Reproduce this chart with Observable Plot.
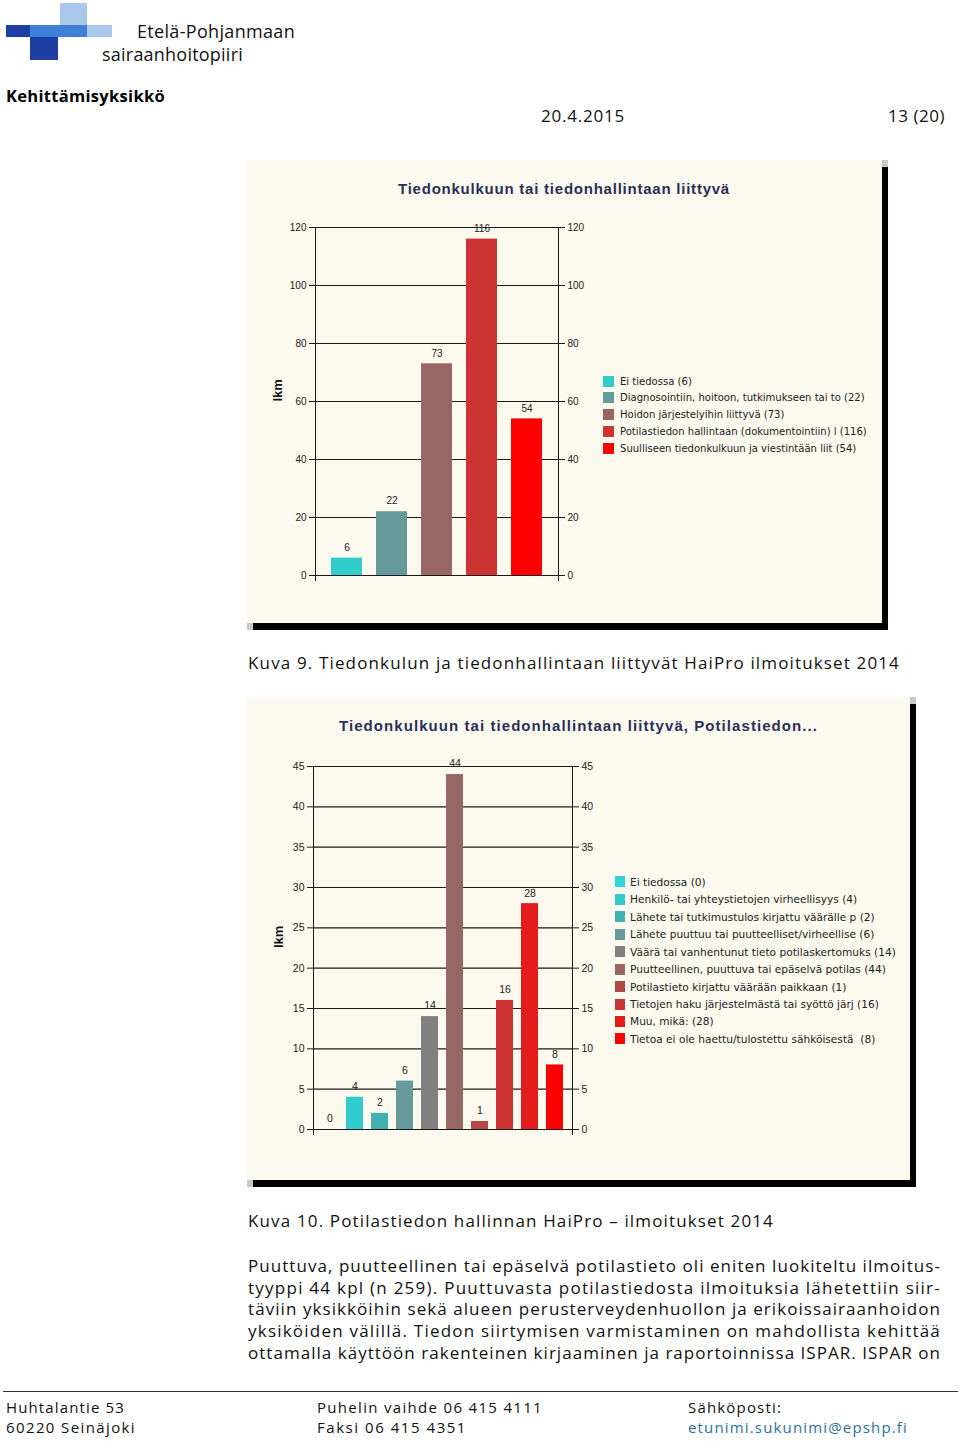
<!DOCTYPE html>
<html><head><meta charset="utf-8">
<script src="https://cdn.jsdelivr.net/npm/d3@7"></script>
<script src="https://cdn.jsdelivr.net/npm/@observablehq/plot@0.6"></script>
<style>
html,body{margin:0;padding:0;background:#fff;}
#page{position:relative;width:960px;height:1444px;overflow:hidden;font-family:"Open Sans",sans-serif;color:#111;}
.t{position:absolute;white-space:pre;line-height:1;}
.panel{position:absolute;background:#fcf9ee;box-shadow:6px 7px 0 #000,6px 0 0 #c8c8c8,0 7px 0 #c8c8c8;}
.panel svg{position:absolute;left:0;top:0;}
.ctitle{position:absolute;white-space:pre;font-family:"Liberation Sans",Arial,sans-serif;font-weight:bold;font-size:15px;color:#2b2f58;line-height:1;}
.legend{position:absolute;font-family:"DejaVu Sans",Verdana,sans-serif;color:#222;}
.legend .row{display:flex;align-items:center;white-space:pre;}
.legend .sw{flex:none;}
.logo{position:absolute;}
</style></head>
<body><div id="page"></div>
<script>
// ---------- data ----------
const chart1Title = "Tiedonkulkuun tai tiedonhallintaan liittyvä";
const chart1Categories = ["Ei tiedossa", "Diagnosointiin, hoitoon, tutkimukseen tai to", "Hoidon järjestelyihin liittyvä", "Potilastiedon hallintaan (dokumentointiin) l", "Suulliseen tiedonkulkuun ja viestintään liit"];
const chart1Values = [6, 22, 73, 116, 54];
const chart1Colors = ["#33cccc", "#669999", "#996666", "#cc3333", "#ff0000"];
const chart1Ticks = [0, 20, 40, 60, 80, 100, 120];

const chart2Title = "Tiedonkulkuun tai tiedonhallintaan liittyvä, Potilastiedon...";
const chart2Categories = ["Ei tiedossa", "Henkilö- tai yhteystietojen virheellisyys", "Lähete tai tutkimustulos kirjattu väärälle p", "Lähete puuttuu tai puutteelliset/virheellise", "Väärä tai vanhentunut tieto potilaskertomuks", "Puutteellinen, puuttuva tai epäselvä potilas", "Potilastieto kirjattu väärään paikkaan", "Tietojen haku järjestelmästä tai syöttö järj", "Muu, mikä:", "Tietoa ei ole haettu/tulostettu sähköisestä "];
const chart2Values = [0, 4, 2, 6, 14, 44, 1, 16, 28, 8];
const chart2Colors = ["#33d6d6", "#33cccc", "#40b0b0", "#669999", "#808080", "#996666", "#b04848", "#cc3333", "#e41c1c", "#ff0000"];
const chart2Ticks = [0, 5, 10, 15, 20, 25, 30, 35, 40, 45];

const caption1 = "Kuva 9. Tiedonkulun ja tiedonhallintaan liittyvät HaiPro ilmoitukset 2014";
const caption2 = "Kuva 10. Potilastiedon hallinnan HaiPro – ilmoitukset 2014";
const paragraphLines = [
  "Puuttuva, puutteellinen tai epäselvä potilastieto oli eniten luokiteltu ilmoitus-",
  "tyyppi 44 kpl (n 259). Puuttuvasta potilastiedosta ilmoituksia lähetettiin siir-",
  "täviin yksikköihin sekä alueen perusterveydenhuollon ja erikoissairaanhoidon",
  "yksiköiden välillä. Tiedon siirtymisen varmistaminen on mahdollista kehittää",
  "ottamalla käyttöön rakenteinen kirjaaminen ja raportoinnissa ISPAR. ISPAR on"
];

// ---------- helpers ----------
const page = document.getElementById("page");
function txt(parent, s, x, cy, fs, w, extra) {
  const d = document.createElement("div");
  d.className = "t";
  d.textContent = s;
  d.style.left = x + "px";
  d.style.top = (cy - 0.56 * fs) + "px";
  d.style.fontSize = fs + "px";
  if (extra) Object.assign(d.style, extra);
  parent.appendChild(d);
  if (w) fitSpacing(d, w);
  return d;
}
function fitSpacing(el, w) {
  el.style.letterSpacing = "0px";
  const cur = el.getBoundingClientRect().width;
  const n = [...el.textContent].length;
  el.style.letterSpacing = ((w - cur) / n) + "px";
}
function box(x, y, w, h, c) {
  const d = document.createElement("div");
  d.className = "logo";
  Object.assign(d.style, {left: x + "px", top: y + "px", width: w + "px", height: h + "px", background: c});
  page.appendChild(d);
}

// ---------- header ----------
box(60, 3, 27, 23, "#a9c8ec");
box(6, 25, 24, 12, "#1d3fa4");
box(30, 25, 57, 12, "#3f80d6");
box(87, 25, 25, 12, "#a9c8ec");
box(30, 37, 28, 23, "#1d3fa4");
txt(page, "Etelä-Pohjanmaan", 137, 32, 18, 158, {color: "#111"});
txt(page, "sairaanhoitopiiri", 102, 55, 18, 141, {color: "#111"});
txt(page, "Kehittämisyksikkö", 6, 97, 16.5, 159, {fontWeight: "bold", color: "#000"});
txt(page, "20.4.2015", 541, 117, 17, 84);
txt(page, "13 (20)", 888, 117, 17, 57);

// ---------- charts ----------
function chart(o) {
  const panel = document.createElement("div");
  panel.className = "panel";
  Object.assign(panel.style, {left: o.x + "px", top: o.y + "px", width: o.w + "px", height: o.h + "px"});
  page.appendChild(panel);
  const data = o.cats.map((c, i) => ({c, v: o.vals[i], color: o.colors[i]}));
  const svg = Plot.plot({
    width: o.w, height: o.h,
    marginLeft: o.ml, marginRight: o.mr, marginTop: o.mt, marginBottom: o.mb,
    style: {background: "transparent", fontFamily: "Liberation Sans, Arial, sans-serif", fontSize: o.tickFs + "px", color: "#222", overflow: "visible"},
    x: {domain: o.cats, padding: o.pad, axis: null},
    y: {domain: [0, o.ticks[o.ticks.length - 1]], axis: null},
    color: {type: "identity"},
    marks: [
      Plot.ruleY(o.ticks, {stroke: "#1a1a1a", strokeWidth: 1.1}),
      Plot.axisY(o.ticks, {anchor: "left", tickSize: 6, tickPadding: 3, label: null, fontSize: o.tickFs, stroke: "#1a1a1a"}),
      Plot.axisY(o.ticks, {anchor: "right", tickSize: 6, tickPadding: 3, label: null, fontSize: o.tickFs, stroke: "#1a1a1a"}),
      Plot.frame({anchor: "left", stroke: "#1a1a1a", insetBottom: -5}),
      Plot.frame({anchor: "right", stroke: "#1a1a1a", insetBottom: -5}),
      Plot.barY(data, {x: "c", y: "v", fill: "color"}),
      Plot.text(data, {x: "c", y: "v", text: d => String(d.v), dy: -10.5, fontSize: o.tickFs, fill: "#222"}),
      Plot.text(["lkm"], {frameAnchor: "left", dx: o.lkmDx, rotate: -90, fontWeight: "bold", fontSize: 13, fill: "#111"})
    ]
  });
  panel.appendChild(svg);
  const t = document.createElement("div");
  t.className = "ctitle";
  t.textContent = o.title;
  t.style.top = (o.titleCy - o.y - 8.5) + "px";
  panel.appendChild(t);
  fitSpacing(t, o.titleW);
  t.style.left = (o.titleX - o.x) + "px";
  const lg = document.createElement("div");
  lg.className = "legend";
  lg.style.left = (o.lgX - o.x) + "px";
  lg.style.top = (o.lgY - o.y - o.rowH / 2) + "px";
  lg.style.fontSize = "10px";
  const spans = [];
  data.forEach(d => {
    const r = document.createElement("div");
    r.className = "row";
    r.style.height = o.rowH + "px";
    const sw = document.createElement("div");
    sw.className = "sw";
    Object.assign(sw.style, {width: o.swW + "px", height: o.swH + "px", background: d.color, marginRight: o.swGap + "px"});
    const s = document.createElement("span");
    s.textContent = d.c + " (" + d.v + ")";
    r.appendChild(sw); r.appendChild(s);
    lg.appendChild(r);
    spans.push(s);
  });
  panel.appendChild(lg);
  // scale the legend font so that the reference row has its measured length
  const wNow = spans[o.lgRefRow].getBoundingClientRect().width;
  lg.style.fontSize = (10 * o.lgRefW / wNow) + "px";
}

chart({x: 247, y: 160, w: 635, h: 463, ml: 68, mr: 324, mt: 67, mb: 48, pad: 0.32,
  cats: chart1Categories, vals: chart1Values, colors: chart1Colors, ticks: chart1Ticks,
  tickFs: 10, lkmDx: -38, title: chart1Title, titleX: 398, titleW: 332, titleCy: 189,
  lgX: 603, lgY: 381, rowH: 16.75, lgRefRow: 3, lgRefW: 247, swW: 11, swH: 11, swGap: 6});
chart({x: 247, y: 697, w: 663, h: 483, ml: 66, mr: 338, mt: 69, mb: 51, pad: 0.31,
  cats: chart2Categories, vals: chart2Values, colors: chart2Colors, ticks: chart2Ticks,
  tickFs: 10.5, lkmDx: -35, title: chart2Title, titleX: 339, titleW: 479, titleCy: 726,
  lgX: 615, lgY: 882, rowH: 17.44, lgRefRow: 4, lgRefW: 266, swW: 10, swH: 11, swGap: 5});

// ---------- captions and body ----------
txt(page, caption1, 248, 664, 17, 652);
txt(page, caption2, 248, 1222, 17, 526);
const paraY = [1266, 1288, 1309, 1331, 1353];
paragraphLines.forEach((s, i) => {
  txt(page, s, 248, paraY[i] + 1, 17, 693);
});

// ---------- footer ----------
const rule = document.createElement("div");
Object.assign(rule.style, {position: "absolute", left: "3px", top: "1391px", width: "955px", height: "1px", background: "#333"});
page.appendChild(rule);
txt(page, "Huhtalantie 53", 6, 1408, 15, 119);
txt(page, "60220 Seinäjoki", 6, 1428, 15, 130);
txt(page, "Puhelin vaihde 06 415 4111", 317, 1408, 15, 226);
txt(page, "Faksi 06 415 4351", 317, 1428, 15, 150);
txt(page, "Sähköposti:", 688, 1408, 15, 94);
txt(page, "etunimi.sukunimi@epshp.fi", 688, 1428, 15, 220, {color: "#2f6f9a"});
</script>
</body></html>
